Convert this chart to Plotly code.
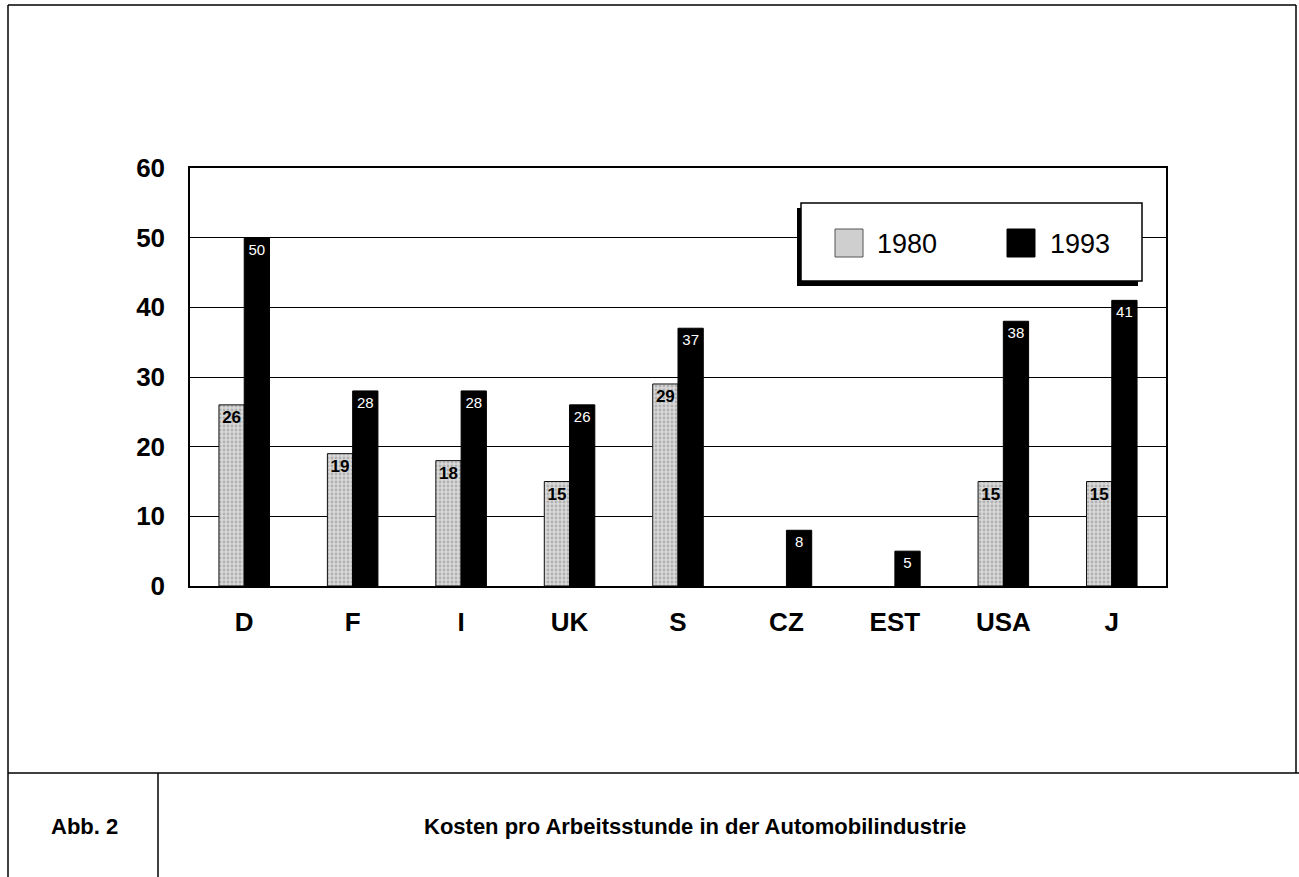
import plotly.graph_objects as go

categories = ["D", "F", "I", "UK", "S", "CZ", "EST", "USA", "J"]
values_1980 = [26, 19, 18, 15, 29, None, None, 15, 15]
values_1993 = [50, 28, 28, 26, 37, 8, 5, 38, 41]
series_names = ["1980", "1993"]
y_ticks = [0, 10, 20, 30, 40, 50, 60]
fig_label = "Abb. 2"
caption = "Kosten pro Arbeitsstunde in der Automobilindustrie"

W, H = 1299, 877
L, R, T, B = 190, 1166, 168, 586
FONT = "Liberation Sans, Arial, sans-serif"


def xp(px):
    return (px - L) / (R - L)


def yp(py):
    return (B - py) / (B - T)


def txt(v):
    return [("" if x is None else str(x)) for x in v]


fig = go.Figure()
fig.add_trace(go.Bar(
    x=categories, y=values_1980, name=series_names[0],
    marker=dict(color="#d4d4d4", line=dict(color="#111", width=1),
                pattern=dict(shape=".", fgcolor="#8a8a8a", bgcolor="#d9d9d9",
                             size=4, solidity=0.4)),
    text=txt(values_1980), textposition="inside", insidetextanchor="end",
    textfont=dict(family=FONT, size=17, color="black", weight="bold"),
    textangle=0, constraintext="none", showlegend=False,
))
fig.add_trace(go.Bar(
    x=categories, y=values_1993, name=series_names[1],
    marker=dict(color="black", line=dict(color="black", width=1)),
    text=txt(values_1993), textposition="inside", insidetextanchor="end",
    textfont=dict(family=FONT, size=15, color="white"),
    textangle=0, constraintext="none", showlegend=False,
))

shapes = []
# outer frame
shapes.append(dict(type="line", xref="paper", yref="paper", x0=xp(8), x1=xp(8), y0=yp(5), y1=yp(877),
                   line=dict(color="black", width=1.5), layer="above"))
shapes.append(dict(type="line", xref="paper", yref="paper", x0=xp(8), x1=xp(1296), y0=yp(5), y1=yp(5),
                   line=dict(color="black", width=1.5), layer="above"))
shapes.append(dict(type="line", xref="paper", yref="paper", x0=xp(1296), x1=xp(1296), y0=yp(5), y1=yp(773),
                   line=dict(color="black", width=1.5), layer="above"))
# caption separators
shapes.append(dict(type="line", xref="paper", yref="paper", x0=xp(8), x1=xp(1299), y0=yp(773), y1=yp(773),
                   line=dict(color="black", width=1.5), layer="above"))
shapes.append(dict(type="line", xref="paper", yref="paper", x0=xp(158), x1=xp(158), y0=yp(773), y1=yp(877),
                   line=dict(color="black", width=1.5), layer="above"))
# legend box with shadow
shapes.append(dict(type="rect", xref="paper", yref="paper", x0=xp(797), x1=xp(1138), y0=yp(208), y1=yp(286),
                   fillcolor="black", line=dict(width=0), layer="above"))
shapes.append(dict(type="rect", xref="paper", yref="paper", x0=xp(801), x1=xp(1142), y0=yp(203), y1=yp(281),
                   fillcolor="white", line=dict(color="black", width=1.5), layer="above"))
# legend swatches
shapes.append(dict(type="rect", xref="paper", yref="paper", x0=xp(835), x1=xp(863), y0=yp(229), y1=yp(257),
                   fillcolor="#cfcfcf", line=dict(color="#555", width=1), layer="above"))
shapes.append(dict(type="rect", xref="paper", yref="paper", x0=xp(1007), x1=xp(1035), y0=yp(229), y1=yp(257),
                   fillcolor="black", line=dict(color="black", width=1), layer="above"))

annotations = [
    dict(text=series_names[0], xref="paper", yref="paper", x=xp(875), y=yp(244), xanchor="left", yanchor="middle",
         showarrow=False, font=dict(family=FONT, size=27, color="black")),
    dict(text=series_names[1], xref="paper", yref="paper", x=xp(1048), y=yp(244), xanchor="left", yanchor="middle",
         showarrow=False, font=dict(family=FONT, size=27, color="black")),
    dict(text="<b>" + fig_label + "</b>", xref="paper", yref="paper", x=xp(84), y=yp(826), xanchor="center",
         yanchor="middle", showarrow=False, font=dict(family=FONT, size=22, color="black")),
    dict(text="<b>" + caption + "</b>", xref="paper", yref="paper", x=xp(695), y=yp(826), xanchor="center",
         yanchor="middle", showarrow=False, font=dict(family=FONT, size=22, color="black")),
]

fig.update_layout(
    width=W, height=H,
    margin=dict(l=L, r=W - R, t=T, b=H - B, pad=0),
    paper_bgcolor="white", plot_bgcolor="white",
    barmode="group", bargap=0.534, bargroupgap=0,
    shapes=shapes, annotations=annotations,
    font=dict(family=FONT, color="black"),
    uniformtext=dict(mode=False),
)
fig.update_xaxes(
    showline=True, linecolor="black", linewidth=1.5, mirror=True,
    showgrid=False, ticks="", ticklabelstandoff=12,
    tickfont=dict(family=FONT, size=26, color="black", weight="bold"),
)
fig.update_yaxes(
    range=[0, 60], tickvals=y_ticks, showline=True, linecolor="black", linewidth=1.5, mirror=True,
    showgrid=True, gridcolor="black", gridwidth=1, zeroline=False, ticks="", ticklabelstandoff=18,
    tickfont=dict(family=FONT, size=26, color="black", weight="bold"),
)

fig.write_html("out.html", config={"displayModeBar": False},
               post_script="document.body.style.margin='0';document.body.style.overflow='hidden';")
